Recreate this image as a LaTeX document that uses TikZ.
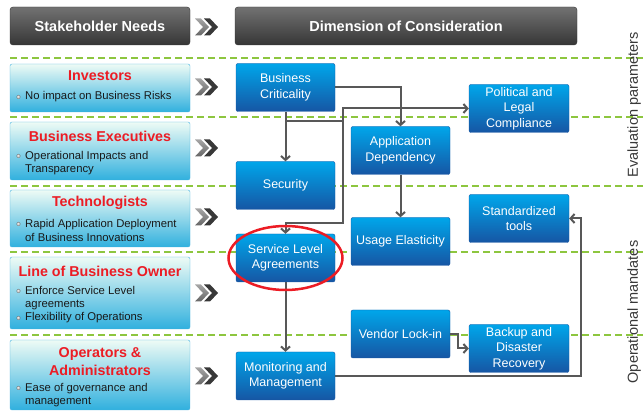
\documentclass[tikz,border=0pt]{standalone}
\usepackage{fontspec}
\setmainfont{Liberation Sans}
\usetikzlibrary{arrows.meta}
\definecolor{hdtop}{RGB}{114,114,114}
\definecolor{hdbot}{RGB}{54,54,54}
\definecolor{dimtop}{RGB}{0,166,234}
\definecolor{dimbot}{RGB}{22,86,164}
\definecolor{needtop}{RGB}{238,251,245}
\definecolor{needbot}{RGB}{48,176,222}
\definecolor{needline}{RGB}{70,178,224}
\definecolor{sepgreen}{RGB}{141,198,63}
\definecolor{flowgray}{RGB}{88,88,88}
\definecolor{titlered}{RGB}{236,28,36}
\newcommand{\chevron}[2]% x, y
{(#1,#2-8.5) -- ++(6,0) -- ++(8,8.5) -- ++(-8,8.5) -- ++(-6,0) -- ++(8,-8.5) -- cycle
}
\newcommand{\bulletdot}[2]% x, y
{(#1,#2) circle (2pt)
}

\begin{document}
\begin{tikzpicture}[x=1pt,y=-1pt,
	head/.style={rectangle, rounded corners=3pt, draw=black!80, top color=hdtop, bottom color=hdbot, text=white, font=\fontsize{14.5}{17}\selectfont\bfseries, minimum height=38pt},
	need/.style={rectangle, rounded corners=2pt, draw=needline, top color=needtop, bottom color=needbot, minimum width=180pt},
	who/.style={text=titlered, font=\fontsize{14.3}{18}\selectfont\bfseries, align=center, inner sep=0pt},
	item/.style={anchor=west, align=left, text=black!90, font=\fontsize{11.3}{13.8}\selectfont, inner sep=0pt},
	dim/.style={rectangle, rounded corners=2pt, draw=dimbot, top color=dimtop, bottom color=dimbot, text=white, align=center, minimum width=99pt, minimum height=48pt, inner sep=1pt, font=\fontsize{12.5}{15.5}\selectfont},
	sep/.style={sepgreen, line width=2pt, dash pattern=on 7pt off 4pt},
	flow/.style={flowgray, line width=2pt, -{Straight Barb[length=4pt,width=9pt]}},
	ring/.style={draw=titlered, line width=2.5pt},
	side/.style={rotate=90, text=black!78, font=\fontsize{14.5}{16}\selectfont}]
	\useasboundingbox (0,0) rectangle (643,411);
	% separators
	\draw[sep] (10,58) -- (643,58);
	\draw[sep] (10,117.5) -- (643,117.5);
	\draw[sep] (10,186) -- (643,186);
	\draw[sep] (10,252) -- (643,252);
	\draw[sep] (10,335) -- (643,335);
	% headers
	\node[head, minimum width=180pt] (needs) at (100,26) {Stakeholder Needs};
	\node[head, minimum width=342pt] (dims) at (406,26) {Dimension of Consideration};
	% chevrons
	\fill[black!78] \chevron{204}{27};
	\fill[black!78] \chevron{204}{87};
	\fill[black!78] \chevron{204}{148};
	\fill[black!78] \chevron{204}{217};
	\fill[black!78] \chevron{204}{293};
	\fill[black!78] \chevron{204}{376};
	\shade[top color=black!35, bottom color=black!60] \chevron{195}{27};
	\shade[top color=black!35, bottom color=black!60] \chevron{195}{87};
	\shade[top color=black!35, bottom color=black!60] \chevron{195}{148};
	\shade[top color=black!35, bottom color=black!60] \chevron{195}{217};
	\shade[top color=black!35, bottom color=black!60] \chevron{195}{293};
	\shade[top color=black!35, bottom color=black!60] \chevron{195}{376};
	% stakeholders
	\node[need, minimum height=48pt] (inv) at (100,88) {};
	\node[need, minimum height=58pt] (exe) at (100,151) {};
	\node[need, minimum height=57pt] (tech) at (100,218.5) {};
	\node[need, minimum height=72pt] (lob) at (100,293) {};
	\node[need, minimum height=70pt] (ops) at (100,375) {};
	\node[who] (invT) at (100,76) {Investors};
	\node[who] (exeT) at (100,136) {Business Executives};
	\node[who] (techT) at (100,203) {Technologists};
	\node[who] (lobT) at (100,271) {Line of Business Owner};
	\node[who] (opsT) at (100,362) {Operators \&\\Administrators};
	\node[item] (invA) at (25,97) {No impact on Business Risks};
	\node[item] (exeA) at (25,163) {Operational Impacts and\\Transparency};
	\node[item] (techA) at (25,230.5) {Rapid Application Deployment\\of Business Innovations};
	\node[item] (lobA) at (25,298) {Enforce Service Level\\agreements};
	\node[item] (lobB) at (25,318) {Flexibility of Operations};
	\node[item] (opsA) at (25,395) {Ease of governance and\\management};
	\shade[ball color=black!12] \bulletdot{18.5}{97};
	\shade[ball color=black!12] \bulletdot{18.5}{156};
	\shade[ball color=black!12] \bulletdot{18.5}{224};
	\shade[ball color=black!12] \bulletdot{18.5}{291};
	\shade[ball color=black!12] \bulletdot{18.5}{318};
	\shade[ball color=black!12] \bulletdot{18.5}{388};
	% dimensions
	\node[dim] (bc) at (285.5,87.5) {Business\\Criticality};
	\node[dim] (sec) at (285.5,185.5) {Security};
	\node[dim] (sla) at (285.5,258) {Service Level\\Agreements};
	\node[dim] (mon) at (285.5,376) {Monitoring and\\Management};
	\node[dim] (app) at (400.5,150.5) {Application\\Dependency};
	\node[dim] (use) at (400.5,241.5) {Usage Elasticity};
	\node[dim] (ven) at (400.5,334) {Vendor Lock-in};
	\node[dim, minimum width=100pt] (pol) at (519,108.5) {Political and\\Legal\\Compliance};
	\node[dim, minimum width=100pt] (std) at (519,218.5) {Standardized\\tools};
	\node[dim, minimum width=100pt] (bak) at (519,348.5) {Backup and\\Disaster\\Recovery};
	% connectors
	\coordinate (split) at (285.5,121);
	\coordinate (jog) at (343,121);
	\coordinate (turn) at (343,223);
	\coordinate (vb) at (458,334);
	\coordinate (rt) at (581,376);
	\draw[flow] (bc) -- (sec);
	\draw[flow] (bc.east) -| (app.north);
	\draw[flow] (split) -- (jog) |- (pol.west);
	\draw[flow] (jog) -- (turn) -| (sla.north);
	\draw[flow] (app) -- (use);
	\draw[flow] (sla) -- (mon);
	\draw[flow] (ven.east) -- (vb) |- (bak.west);
	\draw[flow] (mon.east) -- (rt) |- (std.east);
	\draw[ring] (sla.center) ellipse [x radius=57pt, y radius=32pt];
	% side labels
	\node[side] (eval) at (634,105) {Evaluation parameters};
	\node[side] (oper) at (634,312) {Operational mandates};
\end{tikzpicture}
\end{document}
